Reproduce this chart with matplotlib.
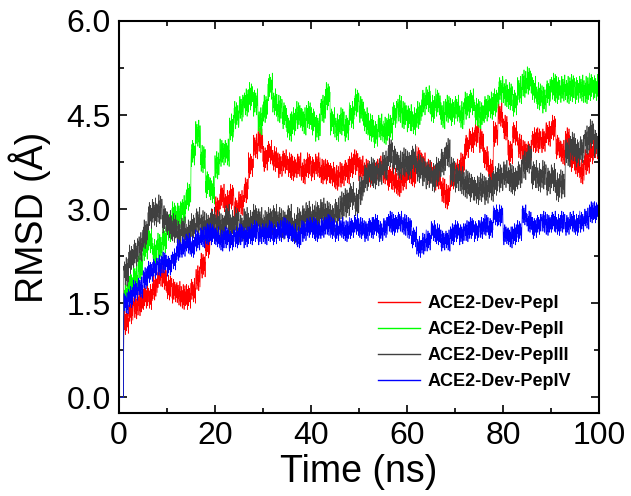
import matplotlib
matplotlib.use('Agg')
import matplotlib.pyplot as plt
from matplotlib.ticker import MultipleLocator, FormatStrFormatter
import numpy as np

plt.rcParams['font.family'] = ['Liberation Sans', 'DejaVu Sans']

# RMSD, one value per ns (0..100 ns)
time_ns = np.arange(0, 101)

pep1 = [0.0, 1.2, 1.35, 1.45, 1.5, 1.6, 1.6, 1.75, 1.95, 1.9,
        1.75, 1.7, 1.65, 1.6, 1.6, 1.7, 1.9, 2.1, 2.4, 2.8,
        3.0, 3.2, 3.1, 3.2, 3.0, 3.1, 3.3, 3.7, 4.0, 4.1,
        3.8, 3.9, 3.8, 3.7, 3.75, 3.7, 3.65, 3.7, 3.6, 3.7,
        3.65, 3.7, 3.6, 3.6, 3.55, 3.5, 3.55, 3.6, 3.7, 3.75,
        3.65, 3.6, 3.55, 3.6, 3.65, 3.6, 3.5, 3.45, 3.4, 3.5,
        3.6, 3.55, 3.8, 3.7, 3.6, 3.55, 3.5, 3.3, 3.2, 3.5,
        3.6, 3.7, 4.0, 4.1, 4.2, 4.1, 3.8, 3.6, 4.2, 4.5,
        4.3, 3.9, 4.2, 4.0, 3.9, 3.9, 4.1, 4.1, 4.1, 4.2,
        4.3, 4.0, 3.9, 4.1, 3.8, 3.7, 3.6, 3.75, 3.9, 4.0,
        3.9]

pep2 = [0.0, 1.6, 1.8, 1.9, 2.1, 2.4, 2.5, 2.3, 2.4, 2.5,
        2.7, 2.9, 2.9, 3.0, 3.2, 3.9, 4.2, 3.8, 3.4, 3.3,
        3.7, 3.9, 3.9, 4.3, 4.5, 4.6, 4.7, 4.8, 4.7, 4.4,
        4.6, 4.95, 4.7, 4.6, 4.5, 4.3, 4.4, 4.5, 4.4, 4.5,
        4.4, 4.3, 4.6, 4.8, 4.4, 4.3, 4.4, 4.3, 4.5, 4.7,
        4.6, 4.4, 4.3, 4.2, 4.3, 4.25, 4.3, 4.5, 4.6, 4.5,
        4.45, 4.4, 4.5, 4.7, 4.75, 4.6, 4.7, 4.5, 4.6, 4.55,
        4.6, 4.5, 4.65, 4.7, 4.55, 4.5, 4.6, 4.65, 4.7, 4.9,
        4.85, 4.8, 4.7, 4.9, 5.0, 5.05, 4.9, 4.8, 4.75, 4.85,
        4.95, 4.9, 4.92, 4.9, 4.93, 4.9, 4.92, 4.9, 4.95, 4.93,
        4.9]

pep3 = [0.0, 2.0, 2.2, 2.3, 2.4, 2.6, 2.9, 2.95, 3.0, 2.85,
        2.75, 2.7, 2.6, 2.65, 2.6, 2.7, 2.8, 2.75, 2.7, 2.8,
        2.75, 2.7, 2.85, 2.75, 2.8, 2.7, 2.8, 2.75, 2.85, 2.8,
        2.75, 2.8, 2.85, 2.8, 2.75, 2.85, 2.7, 2.8, 2.85, 2.9,
        2.85, 2.9, 2.95, 2.9, 2.85, 2.95, 3.05, 3.1, 3.2, 3.1,
        3.3, 3.5, 3.6, 3.55, 3.6, 3.7, 3.9, 3.8, 3.7, 3.75,
        3.7, 3.8, 3.65, 3.6, 3.55, 3.5, 3.6, 3.75, 3.9, 3.6,
        3.5, 3.45, 3.4, 3.35, 3.3, 3.35, 3.3, 3.35, 3.45, 3.5,
        3.55, 3.5, 3.45, 3.55, 3.7, 3.8, 3.55, 3.5, 3.55, 3.45,
        3.5, 3.35, 3.4, 3.9, 4.0, 3.9, 3.95, 4.1, 4.2, 4.05,
        4.2]

pep4 = [0.0, 1.5, 1.6, 1.7, 1.75, 1.9, 2.0, 2.05, 2.1, 2.15,
        2.1, 2.2, 2.35, 2.4, 2.45, 2.4, 2.5, 2.55, 2.6, 2.6,
        2.55, 2.5, 2.55, 2.5, 2.55, 2.6, 2.55, 2.6, 2.65, 2.6,
        2.6, 2.65, 2.6, 2.65, 2.7, 2.65, 2.6, 2.55, 2.65, 2.7,
        2.7, 2.65, 2.7, 2.75, 2.7, 2.65, 2.7, 2.65, 2.7, 2.75,
        2.7, 2.65, 2.7, 2.75, 2.65, 2.7, 2.8, 2.75, 2.8, 2.75,
        2.7, 2.55, 2.4, 2.45, 2.5, 2.65, 2.6, 2.5, 2.5, 2.6,
        2.65, 2.6, 2.65, 2.7, 2.65, 2.7, 2.75, 2.7, 2.9, 2.9,
        2.6, 2.55, 2.6, 2.65, 2.9, 2.8, 2.7, 2.75, 2.8, 2.75,
        2.8, 2.75, 2.8, 2.75, 2.8, 2.75, 2.8, 2.85, 2.95, 2.95,
        2.95]

labels = ['ACE2-Dev-PepI', 'ACE2-Dev-PepII', 'ACE2-Dev-PepIII', 'ACE2-Dev-PepIV']
colors = ['#ff0000', '#00ff00', '#404040', '#0000ff']
# half-width of the fluctuation band seen around each trace
spread = [0.2, 0.22, 0.23, 0.17]

# fixed, irregular zig-zag used to draw the fluctuation band inside each ns
wiggle = np.array([0.1, 0.7, -0.4, 0.3, -0.9, 0.5, -0.2, 1.0,
                   -0.6, 0.2, -1.0, 0.6, -0.3, 0.9, -0.7, 0.4])


def band(values, half, shift):
    pat = np.roll(wiggle, shift)
    n = len(pat)
    xs, ys = [], []
    for i, v in enumerate(values[:-1]):
        for k in range(n):
            xs.append(time_ns[i] + k / n)
            ys.append(v + (half * pat[(k + 5 * i) % n] if i > 0 else 0.0))
    xs.append(time_ns[-1])
    ys.append(values[-1])
    return np.array(xs), np.array(ys)


fig = plt.figure(figsize=(6.31, 4.96), dpi=100)
ax = fig.add_axes([0.1886, 0.1673, 0.7607, 0.7904])

series = [pep1, pep2, pep3, pep4]
for j, (vals, lab, col, sp) in enumerate(zip(series, labels, colors, spread)):
    x, y = band(vals, sp, 3 * j)
    ax.plot(x, y, color=col, lw=0.5, label=lab)

ax.set_xlim(0, 100)
ax.set_ylim(-0.25, 6.0)
ax.xaxis.set_major_locator(MultipleLocator(20))
ax.xaxis.set_minor_locator(MultipleLocator(10))
ax.yaxis.set_major_locator(MultipleLocator(1.5))
ax.yaxis.set_minor_locator(MultipleLocator(0.75))
ax.yaxis.set_major_formatter(FormatStrFormatter('%.1f'))

ax.tick_params(which='both', direction='in', top=True, right=True,
               labelsize=23, pad=6)
ax.tick_params(which='major', length=6, width=1.2)
ax.tick_params(which='minor', length=3.5, width=1.2)
for s in ax.spines.values():
    s.set_linewidth(1.5)

ax.set_xlabel('Time (ns)', fontsize=27, labelpad=2)
ax.set_ylabel('RMSD (Å)', fontsize=27, labelpad=11)

leg = ax.legend(loc='upper left', bbox_to_anchor=(0.54, 0.30), frameon=False,
                prop={'weight': 'bold', 'size': 13}, handlelength=2.3,
                handletextpad=0.45, labelspacing=0.5, borderpad=0, borderaxespad=0)
for h in leg.legend_handles:
    h.set_linewidth(1.0)

fig.savefig('out.png', dpi=100)
